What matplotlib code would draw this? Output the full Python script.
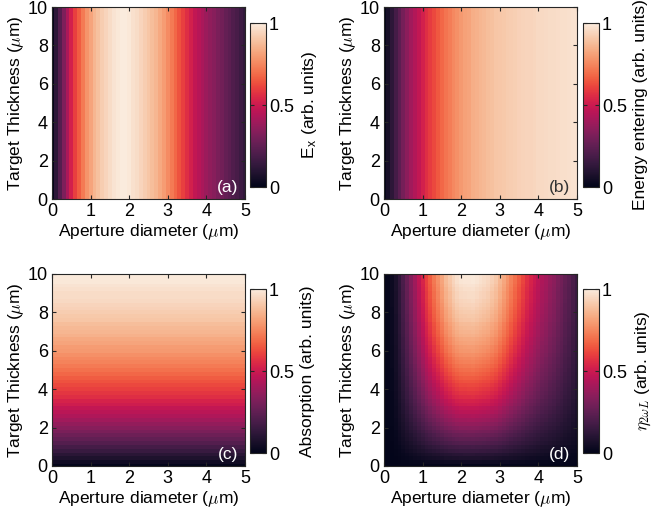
"""Four-panel aperture / thickness maps (Ex, energy entering, absorption, eta)."""

import numpy as np
import matplotlib
matplotlib.use("Agg")
import matplotlib.pyplot as plt
import seaborn as sns

plt.rcParams["font.family"] = ["Liberation Sans", "DejaVu Sans"]
plt.rcParams["font.size"] = 12.5

# aperture diameter samples (um), 0.1 um steps
diameter = [round(0.1 * i, 1) for i in range(51)]

# field at the aperture vs diameter
ex_profile = [
    0.00, 0.12, 0.22, 0.32, 0.42, 0.52, 0.60, 0.66, 0.72, 0.78,
    0.82, 0.86, 0.89, 0.92, 0.94, 0.96, 0.98, 0.99, 1.00, 1.00,
    0.99, 0.97, 0.96, 0.94, 0.92, 0.90, 0.88, 0.86, 0.83, 0.80,
    0.76, 0.72, 0.68, 0.64, 0.60, 0.56, 0.52, 0.48, 0.45, 0.42,
    0.39, 0.36, 0.34, 0.31, 0.29, 0.26, 0.24, 0.21, 0.19, 0.16,
    0.13,
]

# energy entering vs diameter
energy_profile = [
    0.00, 0.06, 0.12, 0.18, 0.24, 0.30, 0.35, 0.40, 0.44, 0.48,
    0.52, 0.56, 0.59, 0.62, 0.65, 0.68, 0.71, 0.73, 0.75, 0.77,
    0.79, 0.81, 0.82, 0.84, 0.85, 0.86, 0.87, 0.88, 0.89, 0.90,
    0.905, 0.91, 0.915, 0.92, 0.925, 0.93, 0.935, 0.94, 0.94, 0.945,
    0.95, 0.95, 0.955, 0.958, 0.96, 0.963, 0.965, 0.968, 0.97, 0.973,
    0.975,
]

# target thickness samples (um), 0.2 um steps
thickness = [round(0.2 * i, 1) for i in range(51)]

# absorption vs thickness
absorption_profile = [
    0.00, 0.04, 0.08, 0.11, 0.15, 0.18, 0.22, 0.25, 0.28, 0.31,
    0.34, 0.37, 0.40, 0.43, 0.46, 0.48, 0.51, 0.53, 0.56, 0.58,
    0.60, 0.62, 0.64, 0.66, 0.68, 0.70, 0.72, 0.74, 0.75, 0.77,
    0.79, 0.80, 0.82, 0.83, 0.85, 0.86, 0.87, 0.88, 0.90, 0.91,
    0.92, 0.93, 0.94, 0.95, 0.96, 0.96, 0.97, 0.98, 0.99, 0.995,
    1.00,
]

panel_tags = ["(a)", "(b)", "(c)", "(d)"]
tag_colors = ["white", "#333333", "white", "white"]
cbar_labels = [
    r"E$_\mathregular{x}$ (arb. units)",
    "Energy entering (arb. units)",
    "Absorption (arb. units)",
    r"$\eta_{2\omega L}$ (arb. units)",
]

# build the 2-D maps from the profiles (rows = thickness, cols = diameter)
ex = np.array(ex_profile)
en = np.array(energy_profile)
ab = np.array(absorption_profile)
ones_t = np.ones(len(thickness))
ones_d = np.ones(len(diameter))
eta = np.outer(ab, ex * en)
maps = [
    np.outer(ones_t, ex),
    np.outer(ones_t, en),
    np.outer(ab, ones_d),
    eta / eta.max(),
]

cmap = sns.color_palette("rocket", as_cmap=True)

W, H = 653, 516
fig = plt.figure(figsize=(W / 100, H / 100), dpi=100)

ax_lefts = [52, 384, 52, 384]
ax_tops = [7, 7, 274, 274]
ax_w, ax_h = 193, 192
cb_lefts = [250, 583, 250, 583]
cb_tops = [23, 23, 289, 289]
cb_w, cb_h = 16, 164

spine_col = "#262626"

for i in range(4):
    ax = fig.add_axes([ax_lefts[i] / W, 1 - (ax_tops[i] + ax_h) / H, ax_w / W, ax_h / H])
    mesh = ax.pcolormesh(diameter, thickness, maps[i], cmap=cmap, vmin=0, vmax=1,
                         shading="nearest", rasterized=True)
    ax.set_xlim(0, 5)
    ax.set_ylim(0, 10)
    ax.set_xticks([0, 1, 2, 3, 4, 5])
    ax.set_yticks([0, 2, 4, 6, 8, 10])
    ax.tick_params(direction="in", top=True, right=True, length=3,
                   color=spine_col, pad=3, labelsize=13)
    for s in ax.spines.values():
        s.set_color(spine_col)
        s.set_linewidth(0.8)
    ax.set_xlabel(r"Aperture diameter ($\mu$m)", math_fontfamily="cm", labelpad=1)
    ax.set_ylabel(r"Target Thickness ($\mu$m)", math_fontfamily="cm", labelpad=1)
    ax.text(0.965, 0.02, panel_tags[i], transform=ax.transAxes, ha="right", va="bottom",
            color=tag_colors[i], fontsize=12.5)

    cax = fig.add_axes([cb_lefts[i] / W, 1 - (cb_tops[i] + cb_h) / H, cb_w / W, cb_h / H])
    cb = fig.colorbar(mesh, cax=cax, ticks=[0, 0.5, 1])
    cb.ax.set_yticklabels(["0", "0.5", "1"])
    cb.ax.tick_params(direction="in", left=True, right=True, length=3,
                      color=spine_col, pad=2, labelsize=13)
    cb.outline.set_edgecolor(spine_col)
    cb.outline.set_linewidth(0.8)
    cb.set_label(cbar_labels[i], math_fontfamily="cm")
    cb.ax.yaxis.set_label_coords(3.15, 0.5)

fig.savefig("out.png", dpi=100)
plt.close(fig)
